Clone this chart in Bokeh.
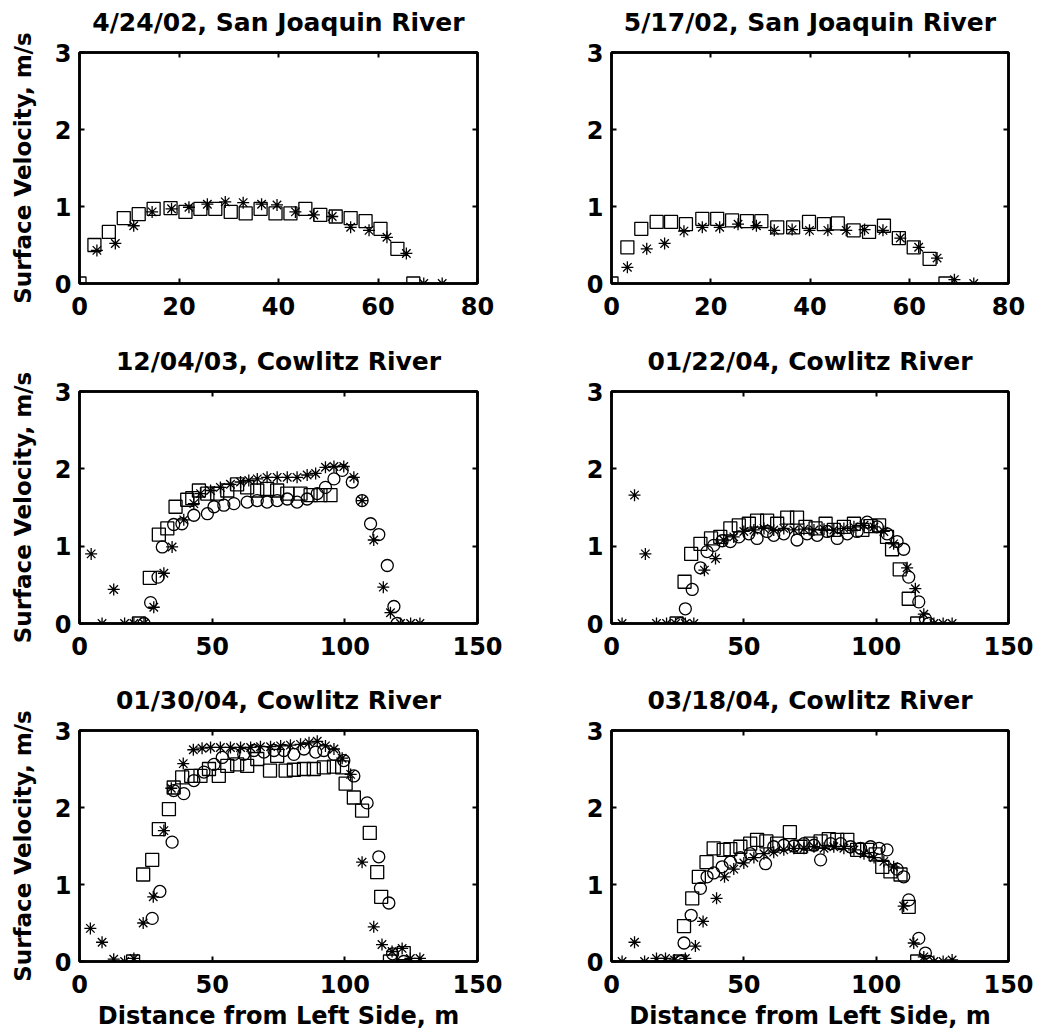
from bokeh.plotting import figure
from bokeh.layouts import gridplot
from bokeh.models import Range1d, LinearAxis, FixedTicker
from bokeh.embed import file_html
from bokeh.resources import INLINE

FONT = "DejaVu Sans"

# ---------------- data ----------------
titles = ["4/24/02, San Joaquin River", "5/17/02, San Joaquin River",
          "12/04/03, Cowlitz River", "01/22/04, Cowlitz River",
          "01/30/04, Cowlitz River", "03/18/04, Cowlitz River"]
x_max = [80, 80, 150, 150, 150, 150]
x_ticks_sj = [0, 20, 40, 60, 80]
x_ticks_cw = [0, 50, 100, 150]
y_ticks = [0, 1, 2, 3]
x_label = "Distance from Left Side, m"
y_label = "Surface Velocity, m/s"

# Panel 1: 4/24/02
p1_sq_x = [0, 3.0, 5.9, 8.9, 11.9, 14.9, 18.3, 21.3, 24.3, 27.3, 30.4, 33.4, 36.4, 39.4, 42.4, 45.4, 48.4, 51.5, 54.5, 57.5, 60.5, 63.9, 67.1]
p1_sq_y = [0, 0.50, 0.67, 0.85, 0.90, 0.97, 0.98, 0.93, 0.97, 0.97, 0.93, 0.91, 0.97, 0.91, 0.91, 0.97, 0.89, 0.87, 0.85, 0.81, 0.71, 0.45, 0]
p1_st_x = [3.5, 7.2, 10.9, 14.6, 18.5, 22.0, 25.7, 29.3, 32.9, 36.6, 39.7, 43.4, 47.1, 50.8, 54.5, 58.2, 61.8, 65.7, 69.2, 72.9]
p1_st_y = [0.43, 0.52, 0.75, 0.93, 0.97, 0.99, 1.03, 1.06, 1.05, 1.03, 1.02, 0.93, 0.89, 0.87, 0.73, 0.69, 0.60, 0.39, 0, 0]

# Panel 2: 5/17/02
p2_sq_x = [0, 3.2, 6.0, 9.1, 12.0, 15.0, 18.3, 21.3, 24.3, 27.3, 30.2, 33.4, 36.6, 39.8, 42.8, 45.6, 48.8, 51.9, 54.9, 57.9, 60.9, 64.1, 67.3]
p2_sq_y = [0, 0.47, 0.71, 0.80, 0.80, 0.77, 0.84, 0.84, 0.82, 0.81, 0.81, 0.73, 0.73, 0.80, 0.77, 0.78, 0.69, 0.67, 0.75, 0.59, 0.47, 0.32, 0]
p2_st_x = [3.2, 7.1, 10.7, 14.6, 18.3, 21.8, 25.5, 29.2, 32.8, 36.4, 39.9, 43.6, 47.3, 51.0, 54.7, 58.2, 61.9, 65.6, 69.1, 73.0]
p2_st_y = [0.21, 0.45, 0.52, 0.68, 0.73, 0.73, 0.77, 0.75, 0.69, 0.70, 0.69, 0.69, 0.69, 0.70, 0.69, 0.59, 0.47, 0.33, 0.05, 0]

# Panel 3: 12/04/03
p3_sq_x = [22.4, 26.5, 29.9, 33.1, 36.2, 40.6, 42.5, 45.0, 48.2, 51.9, 55.7, 59.4, 63.2, 67.0, 70.7, 74.5, 78.3, 83.3, 87.1, 90.8, 94.6]
p3_sq_y = [0, 0.59, 1.15, 1.23, 1.51, 1.60, 1.62, 1.72, 1.68, 1.68, 1.72, 1.80, 1.76, 1.72, 1.74, 1.72, 1.68, 1.68, 1.66, 1.66, 1.66]
p3_st_x = [4.4, 8.5, 12.9, 17.0, 20.5, 24.3, 28.0, 31.8, 34.9, 39.3, 43.1, 45.6, 49.4, 53.1, 56.9, 60.7, 63.8, 67.0, 70.7, 74.5, 78.3, 82.0, 85.8, 89.0, 92.7, 95.9, 99.6, 103.4, 106.5, 110.9, 114.5, 117.2, 121.0, 124.8, 128.3]
p3_st_y = [0.90, 0, 0.44, 0, 0, 0, 0.21, 0.65, 0.99, 1.34, 1.55, 1.68, 1.72, 1.76, 1.80, 1.83, 1.85, 1.87, 1.89, 1.89, 1.89, 1.89, 1.92, 1.94, 2.02, 2.03, 2.03, 1.89, 1.59, 1.08, 0.47, 0.14, 0, 0, 0]
p3_ci_x = [24.3, 26.8, 29.6, 31.2, 35.5, 38.6, 43.1, 48.2, 50.7, 54.4, 58.2, 63.2, 67.0, 70.7, 74.5, 78.3, 82.0, 85.8, 89.6, 92.7, 95.9, 99.0, 102.8, 106.5, 109.7, 112.8, 116.0, 118.5, 119.7]
p3_ci_y = [0, 0.27, 0.60, 0.99, 1.28, 1.29, 1.40, 1.42, 1.51, 1.53, 1.55, 1.57, 1.59, 1.57, 1.59, 1.61, 1.57, 1.61, 1.68, 1.76, 1.87, 1.98, 1.83, 1.59, 1.29, 1.15, 0.75, 0.22, 0]

# Panel 4: 01/22/04
p4_sq_x = [24.6, 27.6, 30.1, 33.6, 37.6, 41.1, 44.9, 48.1, 51.9, 55.0, 58.8, 62.6, 66.4, 70.1, 73.3, 77.1, 80.9, 84.0, 87.8, 91.6, 94.8, 97.9, 101.1, 104.1, 106.0, 108.9, 112.3, 115.5]
p4_sq_y = [0, 0.54, 0.90, 1.03, 1.10, 1.12, 1.23, 1.27, 1.29, 1.33, 1.33, 1.29, 1.37, 1.37, 1.25, 1.23, 1.29, 1.21, 1.25, 1.29, 1.21, 1.26, 1.27, 1.12, 0.96, 0.70, 0.32, 0]
p4_st_x = [4.0, 8.7, 12.8, 17.0, 20.8, 24.2, 27.9, 31.1, 35.1, 39.3, 42.4, 46.2, 50.0, 53.8, 57.6, 61.3, 65.1, 68.9, 72.7, 76.5, 80.3, 84.0, 87.8, 91.6, 95.4, 99.2, 102.9, 106.6, 111.7, 114.8, 118.0, 121.8, 125.3, 128.7]
p4_st_y = [0, 1.66, 0.90, 0, 0, 0, 0, 0, 0.69, 0.84, 1.08, 1.12, 1.19, 1.21, 1.23, 1.21, 1.23, 1.21, 1.22, 1.21, 1.22, 1.21, 1.23, 1.25, 1.27, 1.25, 1.19, 1.03, 0.72, 0.45, 0.12, 0, 0, 0]
p4_ci_x = [26.1, 27.9, 30.5, 33.6, 36.1, 38.6, 41.8, 44.9, 48.1, 51.9, 55.0, 58.8, 61.3, 65.1, 70.1, 73.9, 77.7, 81.5, 85.3, 89.1, 92.8, 96.6, 100.4, 104.1, 107.9, 110.4, 112.3, 116.1, 118.6, 119.9]
p4_ci_y = [0, 0.19, 0.44, 0.72, 0.93, 1.01, 1.07, 1.06, 1.12, 1.16, 1.10, 1.19, 1.14, 1.16, 1.08, 1.16, 1.14, 1.19, 1.10, 1.16, 1.19, 1.31, 1.25, 1.16, 1.06, 0.96, 0.60, 0.28, 0.06, 0]

# Panel 5: 01/30/04
p5_sq_x = [20.2, 24.0, 27.4, 29.9, 33.7, 35.5, 38.7, 42.1, 45.6, 48.8, 52.5, 55.7, 59.4, 63.2, 67.0, 71.8, 74.5, 77.7, 80.8, 84.6, 88.3, 92.1, 95.9, 99.0, 100.3, 103.4, 106.5, 109.4, 112.2, 113.7, 117.0, 122.2]
p5_sq_y = [0, 1.13, 1.32, 1.72, 1.98, 2.26, 2.39, 2.41, 2.41, 2.50, 2.41, 2.54, 2.56, 2.54, 2.63, 2.48, 2.67, 2.48, 2.49, 2.50, 2.50, 2.52, 2.53, 2.52, 2.31, 2.13, 1.96, 1.67, 1.16, 0.84, 0, 0.11]
p5_st_x = [4.1, 8.5, 12.9, 17.0, 20.5, 24.0, 27.8, 31.8, 34.6, 39.1, 42.9, 46.2, 49.4, 53.1, 56.9, 60.7, 64.5, 68.2, 72.0, 75.8, 79.5, 83.3, 86.5, 89.6, 92.7, 95.9, 99.0, 102.2, 106.5, 110.9, 114.0, 117.8, 121.6, 124.7, 128.3]
p5_st_y = [0.43, 0.25, 0.03, 0, 0.04, 0.50, 0.84, 1.70, 2.25, 2.57, 2.75, 2.77, 2.78, 2.78, 2.78, 2.78, 2.78, 2.79, 2.79, 2.80, 2.81, 2.82, 2.84, 2.86, 2.80, 2.76, 2.64, 2.43, 1.29, 0.45, 0.22, 0.13, 0.17, 0.04, 0.04]
p5_ci_x = [27.4, 30.3, 34.9, 35.5, 39.3, 43.1, 46.9, 50.7, 53.8, 58.2, 61.9, 65.7, 69.5, 73.3, 77.0, 80.8, 84.6, 89.0, 92.1, 95.9, 99.6, 103.4, 108.4, 112.8, 116.6, 118.0, 122.2]
p5_ci_y = [0.56, 0.91, 1.55, 2.22, 2.18, 2.35, 2.46, 2.56, 2.65, 2.69, 2.69, 2.74, 2.72, 2.74, 2.74, 2.69, 2.76, 2.72, 2.74, 2.69, 2.61, 2.41, 2.06, 1.36, 0.76, 0.10, 0]

# Panel 6: 03/18/04
p6_sq_x = [25.8, 27.4, 30.5, 33.0, 35.9, 38.6, 42.4, 44.9, 48.7, 52.4, 55.0, 58.5, 62.6, 67.4, 71.4, 75.2, 79.0, 82.1, 85.3, 89.1, 92.8, 96.6, 99.8, 102.3, 105.4, 109.2, 112.3, 115.5]
p6_sq_y = [0, 0.46, 0.82, 1.10, 1.29, 1.47, 1.45, 1.46, 1.49, 1.53, 1.58, 1.56, 1.53, 1.68, 1.49, 1.53, 1.56, 1.59, 1.58, 1.58, 1.45, 1.45, 1.39, 1.23, 1.17, 1.13, 0.71, 0]
p6_st_x = [4.0, 8.7, 12.5, 17.0, 20.4, 23.8, 27.9, 31.7, 34.6, 39.7, 42.7, 46.2, 50.0, 53.8, 57.6, 61.3, 65.1, 68.9, 72.7, 76.5, 80.3, 84.0, 87.8, 91.6, 95.4, 99.2, 102.9, 106.6, 110.4, 114.2, 118.0, 121.8, 125.3, 128.7]
p6_st_y = [0, 0.25, 0, 0.04, 0.04, 0.02, 0.04, 0.20, 0.52, 0.82, 1.10, 1.20, 1.28, 1.35, 1.40, 1.42, 1.45, 1.47, 1.47, 1.49, 1.47, 1.49, 1.47, 1.45, 1.40, 1.35, 1.30, 1.23, 0.72, 0.24, 0.06, 0, 0, 0.02]
p6_ci_x = [26.1, 27.4, 30.1, 33.6, 36.1, 38.6, 41.8, 44.9, 48.7, 52.4, 58.2, 61.3, 65.1, 68.9, 72.7, 76.5, 79.0, 82.8, 86.6, 90.3, 94.1, 97.9, 101.1, 104.1, 107.9, 110.4, 112.3, 116.1, 118.6, 119.9]
p6_ci_y = [0, 0.24, 0.60, 0.95, 1.10, 1.15, 1.23, 1.29, 1.35, 1.40, 1.27, 1.49, 1.51, 1.50, 1.53, 1.51, 1.32, 1.53, 1.53, 1.49, 1.47, 1.49, 1.47, 1.45, 1.20, 1.10, 0.80, 0.30, 0.11, 0]

panels = [
    dict(sq=(p1_sq_x, p1_sq_y), st=(p1_st_x, p1_st_y), ci=None),
    dict(sq=(p2_sq_x, p2_sq_y), st=(p2_st_x, p2_st_y), ci=None),
    dict(sq=(p3_sq_x, p3_sq_y), st=(p3_st_x, p3_st_y), ci=(p3_ci_x, p3_ci_y)),
    dict(sq=(p4_sq_x, p4_sq_y), st=(p4_st_x, p4_st_y), ci=(p4_ci_x, p4_ci_y)),
    dict(sq=(p5_sq_x, p5_sq_y), st=(p5_st_x, p5_st_y), ci=(p5_ci_x, p5_ci_y)),
    dict(sq=(p6_sq_x, p6_sq_y), st=(p6_st_x, p6_st_y), ci=(p6_ci_x, p6_ci_y)),
]

# ---------------- layout ----------------
ROW_H = [335, 338, 359]
BORDER_TOP = [52, 56, 57]
BORDER_BOTTOM = [52, 50, 70]


def style_axis(ax, ticks, show_labels):
    ax.ticker = FixedTicker(ticks=ticks)
    ax.major_tick_in = 5
    ax.major_tick_out = 0
    ax.minor_tick_in = 0
    ax.minor_tick_out = 0
    ax.axis_line_width = 2.5
    ax.axis_line_color = "black"
    ax.major_tick_line_width = 2
    ax.major_tick_line_color = "black"
    ax.major_label_text_font = FONT
    ax.major_label_text_font_style = "bold"
    if show_labels:
        ax.major_label_text_font_size = "24px"
        ax.major_label_text_color = "black"
    else:
        # tick marks only: labels are empty and unpainted
        ax.major_label_overrides = {t: "" for t in ticks}
        ax.major_label_text_color = None
        ax.major_label_text_font_size = "1px"
        ax.major_label_standoff = 0


figs = []
for i, pan in enumerate(panels):
    r, c = divmod(i, 2)
    left_col = (c == 0)
    bottom_row = (r == 2)
    xticks = x_ticks_sj if x_max[i] == 80 else x_ticks_cw
    p = figure(width=520 if left_col else 519, height=ROW_H[r],
               output_backend="svg", toolbar_location=None,
               x_range=Range1d(0, x_max[i]), y_range=Range1d(0, 3),
               x_axis_location=None, y_axis_location=None)
    p.min_border_left = 79 if left_col else 91
    p.min_border_right = 43 if left_col else 31
    p.min_border_top = BORDER_TOP[r]
    p.min_border_bottom = BORDER_BOTTOM[r]
    p.outline_line_color = "black"
    p.outline_line_width = 2.5
    p.background_fill_color = "white"
    p.border_fill_color = "white"
    p.grid.grid_line_color = None
    p.xgrid.visible = False
    p.ygrid.visible = False

    bx = LinearAxis()
    style_axis(bx, xticks, True)
    bx.major_label_standoff = 13
    if bottom_row:
        bx.axis_label = x_label
        bx.axis_label_text_font = FONT
        bx.axis_label_text_font_style = "bold"
        bx.axis_label_text_font_size = "24px"
        bx.axis_label_text_color = "black"
        bx.axis_label_standoff = 6
    p.add_layout(bx, "below")

    ly = LinearAxis()
    style_axis(ly, y_ticks, True)
    ly.major_label_standoff = 8
    if left_col:
        ly.axis_label = y_label
        ly.axis_label_text_font = FONT
        ly.axis_label_text_font_style = "bold"
        ly.axis_label_text_font_size = "23px"
        ly.axis_label_text_color = "black"
        ly.axis_label_standoff = 16
    p.add_layout(ly, "left")

    # top axis: inward ticks only, panel title as its label
    tx = LinearAxis()
    style_axis(tx, xticks, False)
    tx.axis_label = titles[i]
    tx.axis_label_text_font = FONT
    tx.axis_label_text_font_style = "bold"
    tx.axis_label_text_font_size = "25px"
    tx.axis_label_text_color = "black"
    tx.axis_label_standoff = 16
    p.add_layout(tx, "above")
    ry = LinearAxis()
    style_axis(ry, y_ticks, False)
    p.add_layout(ry, "right")

    marker_kw = dict(fill_color=None, line_color="black", line_width=1.3)
    sx, sy = pan["sq"]
    p.scatter(sx, sy, marker="square", size=13, **marker_kw)
    if pan["ci"] is not None:
        cx, cy = pan["ci"]
        p.scatter(cx, cy, marker="circle", size=12, **marker_kw)
    tx_, ty_ = pan["st"]
    p.scatter(tx_, ty_, marker="asterisk", size=12, **marker_kw)
    figs.append(p)

grid = gridplot([[figs[0], figs[1]], [figs[2], figs[3]], [figs[4], figs[5]]],
                toolbar_location=None)

open("out.html", "w").write(file_html(grid, INLINE))
